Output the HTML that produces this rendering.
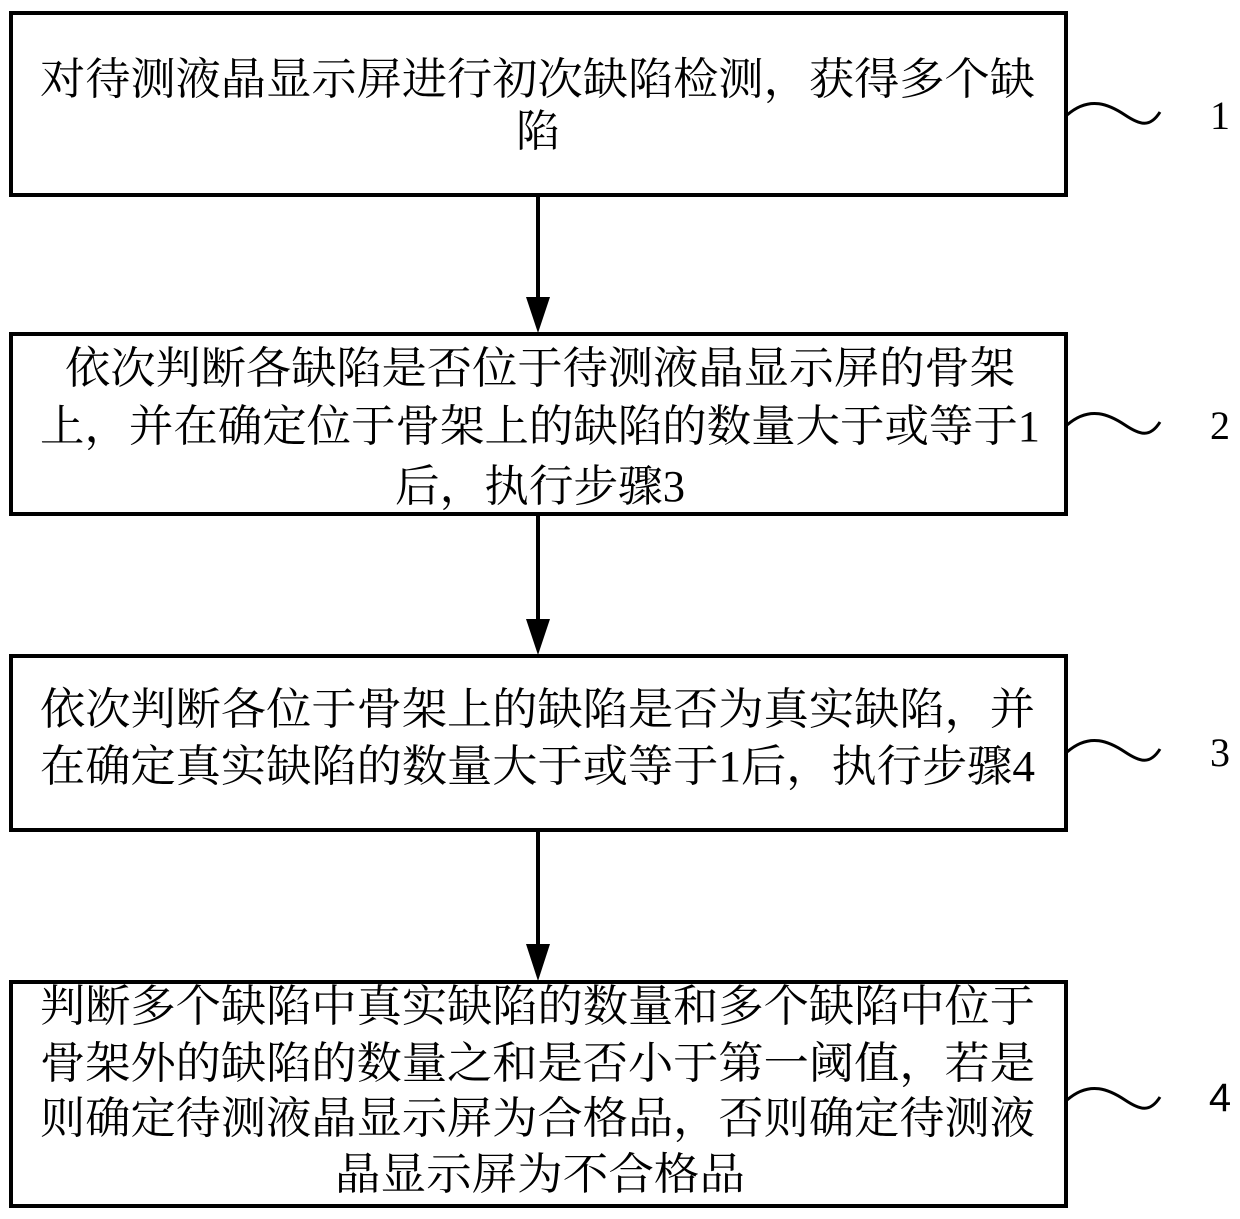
<!DOCTYPE html>
<html><head><meta charset="utf-8"><style>
html,body{margin:0;padding:0;background:#fff;}
svg{display:block;}
text{font-family:"Liberation Serif","Noto Serif CJK SC",serif;font-size:44px;fill:#000;}
.n{font-size:40px;}
</style></head><body>
<svg width="1240" height="1219" viewBox="0 0 1240 1219" xmlns="http://www.w3.org/2000/svg">
<g fill="none" stroke="#000" stroke-width="4">
<rect x="11" y="13" width="1055" height="182"/>
<rect x="11" y="334" width="1055" height="180"/>
<rect x="11" y="656" width="1055" height="174"/>
<rect x="11" y="982" width="1055" height="224"/>
<line x1="538" y1="195" x2="538" y2="300"/>
<line x1="538" y1="514" x2="538" y2="620"/>
<line x1="538" y1="830" x2="538" y2="945"/>
<path d="M1067 115 C1090 95 1110 105 1125 115 C1140 125 1150 128 1160 112" stroke-width="3"/>
<path d="M1067 425 C1090 405 1110 415 1125 425 C1140 435 1150 438 1160 422" stroke-width="3"/>
<path d="M1067 752 C1090 732 1110 742 1125 752 C1140 762 1150 765 1160 749" stroke-width="3"/>
<path d="M1067 1100 C1090 1080 1110 1090 1125 1100 C1140 1110 1150 1113 1160 1097" stroke-width="3"/>
</g>
<g fill="#000">
<polygon points="526,297 550,297 538,333"/>
<polygon points="526,619 550,619 538,655"/>
<polygon points="526,944 550,944 538,981"/>
</g>
<text x="40" y="94" textLength="995" lengthAdjust="spacingAndGlyphs">对待测液晶显示屏进行初次缺陷检测，获得多个缺</text>
<text x="538" y="146" text-anchor="middle">陷</text>
<text x="65" y="383" textLength="950" lengthAdjust="spacingAndGlyphs">依次判断各缺陷是否位于待测液晶显示屏的骨架</text>
<text x="40" y="441" textLength="1000" lengthAdjust="spacingAndGlyphs">上，并在确定位于骨架上的缺陷的数量大于或等于1</text>
<text x="395" y="501" textLength="290" lengthAdjust="spacingAndGlyphs">后，执行步骤3</text>
<text x="40" y="724" textLength="995" lengthAdjust="spacingAndGlyphs">依次判断各位于骨架上的缺陷是否为真实缺陷，并</text>
<text x="40" y="781" textLength="995" lengthAdjust="spacingAndGlyphs">在确定真实缺陷的数量大于或等于1后，执行步骤4</text>
<text x="40" y="1021" textLength="995" lengthAdjust="spacingAndGlyphs">判断多个缺陷中真实缺陷的数量和多个缺陷中位于</text>
<text x="40" y="1078" textLength="995" lengthAdjust="spacingAndGlyphs">骨架外的缺陷的数量之和是否小于第一阈值，若是</text>
<text x="40" y="1133" textLength="995" lengthAdjust="spacingAndGlyphs">则确定待测液晶显示屏为合格品，否则确定待测液</text>
<text x="335" y="1189" textLength="410" lengthAdjust="spacingAndGlyphs">晶显示屏为不合格品</text>
<text class="n" x="1220" y="129" text-anchor="middle">1</text>
<text class="n" x="1220" y="439" text-anchor="middle">2</text>
<text class="n" x="1220" y="766" text-anchor="middle">3</text>
<text class="n" x="1220" y="1111" text-anchor="middle" style="font-family:'Liberation Sans',sans-serif">4</text>
</svg>
</body></html>
